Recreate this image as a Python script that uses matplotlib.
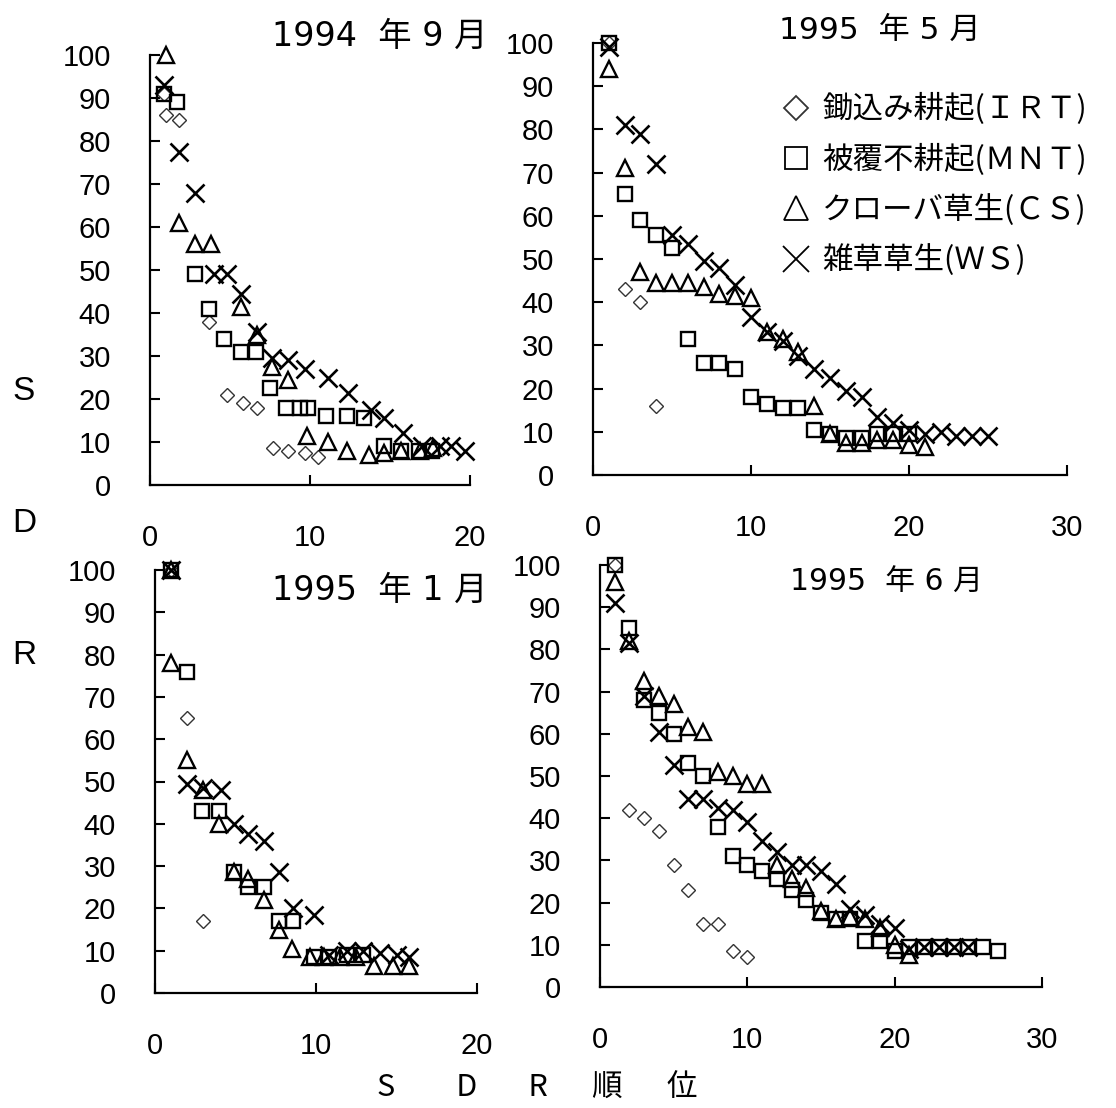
import matplotlib
matplotlib.use("Agg")
import matplotlib.pyplot as plt
from matplotlib.lines import Line2D

plt.rcParams['font.family'] = ['Liberation Sans', 'Noto Sans CJK JP', 'DejaVu Sans']
JP = ['Noto Sans CJK JP', 'DejaVu Sans']
TITLE_FONT = ['DejaVu Sans', 'Noto Sans CJK JP']

W, H = 1116, 1108

# ── data: SDR value by SDR rank, per treatment ─────────────────────────────
# 1994年9月
sep94_irt_x = [0.9, 1.0, 1.8, 3.7, 4.8, 5.8, 6.7, 7.7, 8.6, 9.7, 10.5]
sep94_irt_y = [91, 86, 85, 38, 21, 19, 18, 8.5, 8, 7.5, 6.5]
sep94_mnt_x = [0.9, 1.7, 2.8, 3.7, 4.6, 5.7, 6.6, 7.5, 8.5, 9.4, 9.9, 11.0, 12.3, 13.4, 14.6, 15.7, 16.8, 17.6]
sep94_mnt_y = [91, 89, 49, 41, 34, 31, 31, 22.5, 18, 18, 18, 16, 16, 15.5, 9, 8, 8, 8]
sep94_cs_x = [1.0, 1.8, 2.8, 3.8, 5.7, 6.7, 7.6, 8.6, 9.8, 11.1, 12.3, 13.7, 14.6, 15.7, 16.9, 17.7]
sep94_cs_y = [100, 61, 56, 56, 41.5, 35, 27.5, 24.5, 11.5, 10, 8, 7, 7.5, 8, 8, 8.5]
sep94_ws_x = [0.9, 1.8, 2.8, 4.0, 4.8, 5.7, 6.7, 7.6, 8.6, 9.7, 11.1, 12.4, 13.8, 14.6, 15.8, 17.0, 18.1, 18.8, 19.7]
sep94_ws_y = [93, 77.5, 68, 49, 49, 44.5, 35.5, 29.5, 29, 27, 25, 21.5, 17.5, 15.5, 12, 9, 9, 9, 8]

# 1995年5月
may95_irt_y = [100, 43, 40, 16]
may95_mnt_y = [100, 65, 59, 55.5, 52.5, 31.5, 26, 26, 24.5, 18, 16.5, 15.5, 15.5, 10.5, 9.5,
               8.5, 8.5, 9.5, 9.5, 9.5]
may95_cs_y = [94, 71, 47, 44.5, 44.5, 44.5, 43.5, 42, 41.5, 41, 33, 31.5, 28.5, 16, 9.5,
              7.5, 7.5, 8, 8, 7, 6.5]
may95_ws_y = [99, 81, 79, 72, 55.5, 53.5, 49.5, 48, 44, 36.5, 33, 31, 27.5, 24.5, 22.5,
              19.5, 18, 13.5, 12, 10.5, 9.5, 10, 9, 9, 9]

# 1995年1月
jan95_irt_x = [1, 2, 3]
jan95_irt_y = [100, 65, 17]
jan95_mnt_x = [1, 2, 2.9, 4, 4.9, 5.8, 6.8, 7.7, 8.6, 9.9, 10.8, 11.9, 12.9]
jan95_mnt_y = [100, 76, 43, 43, 28.5, 25, 25, 17, 17, 8.5, 8.5, 9, 9]
jan95_cs_x = [1, 1, 2, 3, 4, 4.9, 5.8, 6.8, 7.7, 8.5, 9.6, 10.5, 11.5, 12.5, 13.6, 14.8, 15.8]
jan95_cs_y = [100, 78, 55, 48, 40, 28.5, 27, 22, 15, 10.5, 8.5, 8.5, 8.5, 8.5, 6.5, 6.5, 6.5]
jan95_ws_x = [1, 2, 3, 4.1, 4.9, 5.8, 6.8, 7.7, 8.6, 9.9, 10.8, 11.9, 12.9, 14, 15, 15.8]
jan95_ws_y = [100, 49.5, 48.5, 48, 40, 37.5, 36, 28.5, 20, 18.5, 9, 10, 10, 9.5, 9, 8.5]

# 1995年6月
jun95_irt_y = [100, 42, 40, 37, 29, 23, 15, 15, 8.5, 7]
jun95_mnt_y = [100, 85, 68, 65, 60, 53, 50, 38, 31, 29, 27.5, 25.5, 23, 20.5, 17.5, 16, 16,
               11, 11, 8.5, 9.5, 9.5, 9.5, 9.5, 9.5, 9.5, 8.5]
jun95_cs_y = [96, 82, 72.5, 69, 67, 61.5, 60.5, 51, 50, 48, 48, 29, 25.5, 23.5, 18, 16, 16.5,
              16, 14, 10, 7.5]
jun95_ws_y = [91, 81.5, 69, 60.5, 52.5, 44.5, 44.5, 42.5, 42, 39, 34.5, 32, 29, 29, 27.5,
              24.5, 18.5, 17, 15, 14, 9, 9.5, 9.5, 9.5, 9.5]


def ranks(vals):
    return list(range(1, len(vals) + 1))


series_names = ["鋤込み耕起(ＩＲＴ)", "被覆不耕起(ＭＮＴ)", "クローバ草生(ＣＳ)", "雑草草生(ＷＳ)"]

STYLE = [
    dict(marker='D', ms=7.2, mfc='none', mec='#333333', mew=1.0),
    dict(marker='s', ms=10.5, mfc='none', mec='black', mew=1.7),
    dict(marker='^', ms=12, mfc='none', mec='black', mew=1.7),
    dict(marker='x', ms=13.5, mec='black', mew=1.9),
]

panels = [
    dict(title="1994  年 9 月", rect=(150, 55, 470, 485), xmax=20, title_xy=(380, 36), tsize=24,
         data=[(sep94_irt_x, sep94_irt_y), (sep94_mnt_x, sep94_mnt_y),
               (sep94_cs_x, sep94_cs_y), (sep94_ws_x, sep94_ws_y)]),
    dict(title="1995  年 5 月", rect=(593, 43, 1067, 475), xmax=30, title_xy=(880, 30), tsize=22.5,
         data=[(ranks(may95_irt_y), may95_irt_y), (ranks(may95_mnt_y), may95_mnt_y),
               (ranks(may95_cs_y), may95_cs_y), (ranks(may95_ws_y), may95_ws_y)]),
    dict(title="1995  年 1 月", rect=(155, 570, 477, 993), xmax=20, title_xy=(380, 590), tsize=24,
         data=[(jan95_irt_x, jan95_irt_y), (jan95_mnt_x, jan95_mnt_y),
               (jan95_cs_x, jan95_cs_y), (jan95_ws_x, jan95_ws_y)]),
    dict(title="1995  年 6 月", rect=(600, 565, 1042, 987), xmax=30, title_xy=(886, 582), tsize=21.5,
         data=[(ranks(jun95_irt_y), jun95_irt_y), (ranks(jun95_mnt_y), jun95_mnt_y),
               (ranks(jun95_cs_y), jun95_cs_y), (ranks(jun95_ws_y), jun95_ws_y)]),
]

fig = plt.figure(figsize=(W / 100, H / 100), dpi=100)

for p in panels:
    l, t, r, b = p["rect"]
    ax = fig.add_axes([l / W, 1 - b / H, (r - l) / W, (b - t) / H])
    for (xs, ys), st in zip(p["data"], STYLE):
        ax.plot(xs, ys, linestyle='none', clip_on=False, **st)
    ax.set_xlim(0, p["xmax"])
    ax.set_ylim(0, 100)
    ax.set_xticks(range(0, p["xmax"] + 1, 10))
    ax.set_yticks(range(0, 101, 10))
    ax.tick_params(direction='in', length=7, width=1.5, labelsize=21, pad=28)
    for s in ("top", "right"):
        ax.spines[s].set_visible(False)
    for s in ("left", "bottom"):
        ax.spines[s].set_linewidth(1.6)
    ax.patch.set_alpha(0)
    tx, ty = p["title_xy"]
    fig.text(tx / W, 1 - ty / H, p["title"], family=TITLE_FONT, fontsize=p["tsize"],
             ha='center', va='center')

# legend in the 1995年5月 panel
leg_sizes = [12, 15.5, 17, 18.5]
handles = []
for st, sz in zip(STYLE, leg_sizes):
    h = dict(st)
    h["ms"] = sz
    h["mew"] = 1.3
    handles.append(Line2D([], [], linestyle='none', **h))
fig.legend(handles, series_names, loc='upper left', bbox_to_anchor=(765 / W, 1 - 78 / H),
           frameon=False, borderpad=0, handlelength=1.0, handletextpad=0.37,
           labelspacing=0.6, prop=dict(family=JP, size=22))

# axis labels
for ch, yy in zip("SDR", (392, 523, 655)):
    fig.text(24 / W, 1 - yy / H, ch, fontsize=24, ha='center', va='center')
fig.text(537 / W, 1 - 1088 / H, "S\u3000\u3000D\u3000   R\u3000  順\u3000  位", family=JP,
         fontsize=22, ha='center', va='center')

fig.savefig("out.png", dpi=100)
